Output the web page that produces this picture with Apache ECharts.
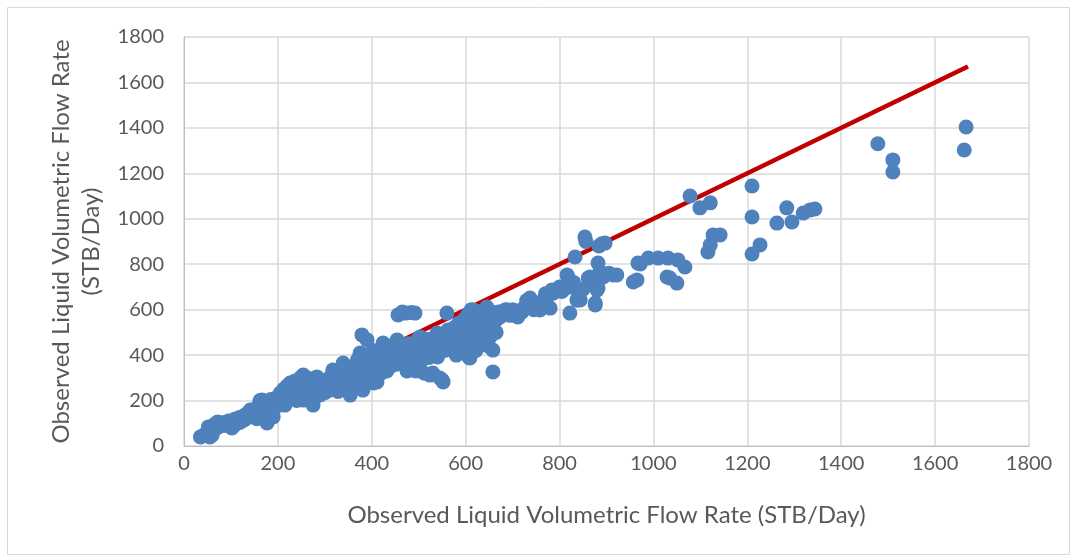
<!DOCTYPE html>
<html>
<head>
<meta charset="utf-8">
<script src="https://cdn.jsdelivr.net/npm/echarts@6/dist/echarts.min.js"></script>
<style>
html,body{margin:0;padding:0;background:#fff;}
#chart{width:1077px;height:560px;}
</style>
</head>
<body>
<div id="chart"></div>
<script>
// Axis ticks
var xTicks = [0,200,400,600,800,1000,1200,1400,1600,1800];
var yTicks = [0,200,400,600,800,1000,1200,1400,1600,1800];

// Observed points (x, y)
var pts0_100 = [[35,40],[40,45],[55,40],[60,48],[50,65],[52,84],[60,75],[65,95],[70,80],[72,106],[78,100],[85,90],[88,105],[92,95],[95,110],[100,85],[102,79],[105,100],[108,118],[110,95]];
var pts100_200 = [[115,110],[118,125],[120,105],[125,130],[128,115],[132,140],[135,125],[140,150],[141,158],[145,130],[148,140],[152,160],[155,120],[158,175],[160,150],[162,200],[165,185],[166,202],[170,140],[172,165],[175,190],[177,101],[180,120],[182,180],[185,205],[188,160],[190,128],[192,195],[195,210],[198,175],[200,190]];
var pts200_300 = [[205,233],[208,200],[210,215],[212,250],[215,180],[218,225],[220,265],[222,240],[226,277],[228,210],[230,255],[232,230],[235,285],[238,245],[240,200],[242,270],[245,220],[248,300],[250,260],[252,235],[254,312],[255,202],[258,280],[260,245],[262,300],[265,215],[268,265],[270,290],[272,230],[275,180],[276,250],[278,210],[280,275],[283,304],[285,240],[288,260],[290,225],[292,285],[295,250],[298,270],[300,235]];
var pts300_400 = [[302,260],[305,290],[308,245],[310,300],[312,270],[315,250],[317,334],[320,285],[322,265],[325,305],[328,240],[330,320],[332,275],[335,255],[338,300],[339,365],[340,335],[342,290],[345,260],[348,310],[350,345],[352,280],[354,224],[356,320],[358,300],[360,350],[362,270],[365,330],[368,295],[370,380],[372,310],[375,409],[376,260],[378,345],[379,489],[381,246],[383,320],[385,360],[387,290],[390,467],[392,400],[394,330],[396,304],[398,380],[400,350]];
var pts400_500 = [[402,420],[403,277],[405,300],[407,370],[410,395],[411,282],[412,340],[415,420],[418,360],[420,320],[422,400],[424,453],[426,380],[428,350],[430,410],[432,330],[435,440],[437,390],[439,365],[440,350],[442,420],[445,380],[448,430],[450,400],[452,360],[454,467],[456,577],[458,420],[460,380],[462,440],[465,590],[467,422],[470,400],[472,585],[475,330],[478,450],[480,410],[481,334],[484,588],[485,370],[488,392],[490,420],[492,585],[494,330],[496,440],[498,470],[500,400]];
var pts500_600 = [[503,480],[505,430],[508,380],[510,450],[512,320],[515,470],[518,410],[520,440],[522,390],[524,312],[526,470],[530,321],[532,430],[535,460],[537,400],[539,497],[540,392],[542,440],[545,299],[548,470],[550,290],[552,282],[555,420],[558,480],[560,585],[562,510],[565,440],[568,500],[570,460],[572,420],[575,520],[578,480],[580,400],[581,409],[583,450],[585,540],[588,500],[590,470],[592,530],[595,420],[598,560],[600,480]];
var pts600_700 = [[602,520],[605,580],[607,390],[609,387],[610,450],[612,600],[614,540],[616,599],[618,480],[620,520],[622,420],[625,560],[628,500],[630,450],[632,580],[635,540],[638,470],[640,600],[642,520],[645,612],[648,440],[650,560],[652,480],[655,590],[658,422],[658,326],[660,540],[662,580],[665,500],[668,560],[670,590],[675,570],[680,580],[685,600],[688,599],[692,590],[695,575],[700,600]];
var pts700_850 = [[705,590],[709,577],[711,568],[715,595],[720,590],[725,610],[730,640],[737,651],[740,620],[745,600],[750,610],[758,599],[765,640],[770,670],[775,660],[780,607],[784,687],[786,673],[790,680],[795,687],[800,700],[805,680],[810,690],[816,753],[818,744],[822,585],[825,700],[830,720],[833,832],[837,643],[839,643],[844,643],[850,690]];
var pts850_950 = [[854,920],[856,900],[861,739],[865,744],[869,739],[872,710],[876,629],[876,621],[880,687],[882,805],[882,695],[884,880],[886,766],[890,890],[893,744],[897,893],[905,760],[914,753],[922,753]];
var pts950_1150 = [[957,722],[965,731],[967,805],[972,801],[989,827],[1010,827],[1031,827],[1029,744],[1035,739],[1050,717],[1052,819],[1067,788],[1078,1100],[1099,1048],[1116,854],[1121,885],[1121,1070],[1127,929],[1142,929]];
var pts1200_1350 = [[1210,1144],[1210,1008],[1210,845],[1227,885],[1263,981],[1284,1048],[1295,986],[1319,1025],[1334,1039],[1344,1043]];
var pts1450_up = [[1478,1330],[1510,1259],[1510,1206],[1666,1404],[1662,1303]];

// Perfect-agreement line (y = x)
var lineX = [35, 1670];

var scatterData = [].concat(pts0_100, pts100_200, pts200_300, pts300_400, pts400_500, pts500_600, pts600_700, pts700_850, pts850_950, pts950_1150, pts1200_1350, pts1450_up);
var lineData = lineX.map(function(v){ return [v, v]; });

var FONT = 'Lato, "Open Sans", sans-serif';
var plain = function(v){ return String(v); };
var chart = echarts.init(document.getElementById('chart'), null, {renderer:'canvas'});
chart.setOption({
  animation:false,
  backgroundColor:'#ffffff',
  graphic:[{type:'rect', shape:{x:7.5,y:7.5,width:1062,height:547}, style:{fill:'none', stroke:'#d9d9d9', lineWidth:1}, silent:true}],
  grid:{left:184, right:48, top:37, bottom:114},
  xAxis:{
    type:'value', min:xTicks[0], max:xTicks[xTicks.length-1], interval:xTicks[1]-xTicks[0],
    name:'Observed Liquid Volumetric Flow Rate (STB/Day)', nameLocation:'middle', nameGap:57,
    nameTextStyle:{fontFamily:FONT, fontSize:24, color:'#595959'},
    axisLine:{show:true, lineStyle:{color:'#bfbfbf', width:1}},
    axisTick:{show:false},
    axisLabel:{fontFamily:FONT, fontSize:20, color:'#595959', margin:8, formatter:plain},
    splitLine:{show:true, lineStyle:{color:'#d9d9d9', width:1.5}}
  },
  yAxis:{
    type:'value', min:yTicks[0], max:yTicks[yTicks.length-1], interval:yTicks[1]-yTicks[0],
    name:'Observed Liquid Volumetric Flow Rate\n(STB/Day)', nameLocation:'middle', nameGap:77,
    nameTextStyle:{fontFamily:FONT, fontSize:24, color:'#595959', lineHeight:30},
    axisLine:{show:true, lineStyle:{color:'#bfbfbf', width:1}},
    axisTick:{show:false},
    axisLabel:{fontFamily:FONT, fontSize:20, color:'#595959', margin:20, formatter:plain},
    splitLine:{show:true, lineStyle:{color:'#d9d9d9', width:1.5}}
  },
  series:[
    {type:'line', data:lineData, symbol:'none', z:1, lineStyle:{color:'#C00000', width:4.5}, silent:true},
    {type:'scatter', data:scatterData, symbol:'circle', symbolSize:15, z:2, itemStyle:{color:'#4F81BD', opacity:1}}
  ]
});
</script>
</body>
</html>
